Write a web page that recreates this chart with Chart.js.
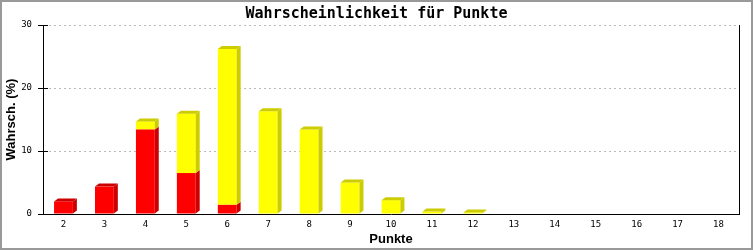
<!DOCTYPE html>
<html>
<head>
<meta charset="utf-8">
<title>Wahrscheinlichkeit für Punkte</title>
<script src="https://cdn.jsdelivr.net/npm/chart.js@4.4.1/dist/chart.umd.min.js"></script>
<style>
  html, body { margin: 0; padding: 0; background: #fff; }
  canvas { display: block; }
</style>
</head>
<body>
<canvas id="punkteChart" width="753" height="250"></canvas>
<script>
// --- DATEN ---
const punkte = ['2', '3', '4', '5', '6', '7', '8', '9', '10', '11', '12', '13', '14', '15', '16', '17', '18'];
const rotWerte = [2.0, 4.35, 13.4, 6.5, 1.45, 0, 0, 0, 0, 0, 0, 0, 0, 0, 0, 0, 0];
const gelbWerte = [0, 0, 1.3, 9.4, 24.75, 16.3, 13.4, 5.0, 2.2, 0.4, 0.25, 0, 0, 0, 0, 0, 0];
const yTicks = [0, 10, 20, 30];

const balkenFarben = ['#ff0000', '#ffff00'];
const seitenFarben = ['#cc0000', '#cccc00'];

// Tiefe des 3D-Effekts
const TIEFE_X = 4;
const TIEFE_Y = 3;

// Zeichnet Seiten- und Deckflaechen der Balken
const balken3D = {
    id: 'balken3D',
    afterDatasetsDraw(chart) {
        const ctx = chart.ctx;
        ctx.save();
        chart.data.labels.forEach((_, i) => {
            let oben = null;
            chart.data.datasets.forEach((ds, d) => {
                if (!ds.data[i]) return;
                const bar = chart.getDatasetMeta(d).data[i];
                const { x, y, base, width } = bar.getProps(['x', 'y', 'base', 'width'], true);
                const r = x + width / 2;
                ctx.fillStyle = seitenFarben[d];
                ctx.beginPath();
                ctx.moveTo(r, y);
                ctx.lineTo(r + TIEFE_X, y - TIEFE_Y);
                ctx.lineTo(r + TIEFE_X, base - TIEFE_Y);
                ctx.lineTo(r, base);
                ctx.closePath();
                ctx.fill();
                oben = { l: x - width / 2, r, y, farbe: seitenFarben[d] };
            });
            if (oben) {
                ctx.fillStyle = oben.farbe;
                ctx.beginPath();
                ctx.moveTo(oben.l, oben.y);
                ctx.lineTo(oben.l + TIEFE_X, oben.y - TIEFE_Y);
                ctx.lineTo(oben.r + TIEFE_X, oben.y - TIEFE_Y);
                ctx.lineTo(oben.r, oben.y);
                ctx.closePath();
                ctx.fill();
            }
        });
        ctx.restore();
    }
};

// Hintergrund, Rahmen, rechte Achsenlinie und Teilstriche
const rahmen = {
    id: 'rahmen',
    afterLayout(chart) {
        // Titel ueber die ganze Breite zentrieren
        if (chart.titleBlock) {
            chart.titleBlock.left = 0;
            chart.titleBlock.right = chart.width;
        }
    },
    beforeDraw(chart) {
        const ctx = chart.ctx;
        ctx.save();
        ctx.fillStyle = '#ffffff';
        ctx.fillRect(0, 0, chart.width, chart.height);
        ctx.restore();
    },
    afterDraw(chart) {
        const ctx = chart.ctx;
        const a = chart.chartArea;
        const yScale = chart.scales.y;
        const links = Math.round(a.left);
        ctx.save();
        ctx.strokeStyle = '#000';
        ctx.lineWidth = 1;
        ctx.beginPath();
        ctx.moveTo(Math.round(a.right) + 0.5, Math.round(a.top));
        ctx.lineTo(Math.round(a.right) + 0.5, Math.round(a.bottom) + 1);
        yTicks.forEach(v => {
            const py = Math.round(yScale.getPixelForValue(v)) + 0.5;
            ctx.moveTo(links - 5, py);
            ctx.lineTo(links + 5, py);
        });
        ctx.stroke();
        ctx.strokeStyle = '#999999';
        ctx.lineWidth = 2;
        ctx.strokeRect(1, 1, chart.width - 2, chart.height - 2);
        ctx.restore();
    }
};

const tickFont = { family: 'DejaVu Sans Mono', size: 9 };
const titelFont = { family: 'Liberation Sans', size: 13, weight: 'bold' };

new Chart(document.getElementById('punkteChart'), {
    type: 'bar',
    data: {
        labels: punkte,
        datasets: [{
            label: 'rot',
            data: rotWerte,
            backgroundColor: balkenFarben[0],
            borderWidth: 0
        }, {
            label: 'gelb',
            data: gelbWerte,
            backgroundColor: balkenFarben[1],
            borderWidth: 0
        }]
    },
    options: {
        responsive: false,
        animation: false,
        devicePixelRatio: 1,
        barPercentage: 0.46,
        categoryPercentage: 1,
        layout: { padding: { left: 0, right: 14, top: 0, bottom: 0 } },
        plugins: {
            legend: { display: false },
            tooltip: { enabled: false },
            title: {
                display: true,
                text: 'Wahrscheinlichkeit für Punkte',
                color: '#000',
                font: { family: 'DejaVu Sans Mono', size: 15, weight: 'bold' },
                padding: { top: 5, bottom: 2 }
            }
        },
        scales: {
            x: {
                stacked: true,
                grid: { display: false, drawTicks: false },
                border: { display: true, color: '#000', width: 1 },
                ticks: { color: '#000', font: tickFont, padding: 5, maxRotation: 0, autoSkip: false },
                title: {
                    display: true,
                    text: 'Punkte',
                    color: '#000',
                    font: titelFont,
                    padding: { top: 2, bottom: 3 }
                },
                afterFit(scale) { scale.height = 36; }
            },
            y: {
                stacked: true,
                min: 0,
                max: 30,
                afterBuildTicks(scale) { scale.ticks = yTicks.map(v => ({ value: v })); },
                ticks: { color: '#000', font: tickFont, padding: 6 },
                grid: {
                    color: (c) => c.tick && c.tick.value === 0 ? 'rgba(0,0,0,0)' : '#bbbbbb',
                    tickColor: '#000',
                    tickLength: 5
                },
                border: { display: true, color: '#000', width: 1, dash: [2, 3] },
                title: {
                    display: true,
                    text: 'Wahrsch. (%)',
                    color: '#000',
                    font: titelFont,
                    padding: { top: 4, bottom: 2 }
                },
                afterFit(scale) { scale.width = 43; }
            }
        }
    },
    plugins: [balken3D, rahmen]
});
</script>
</body>
</html>
